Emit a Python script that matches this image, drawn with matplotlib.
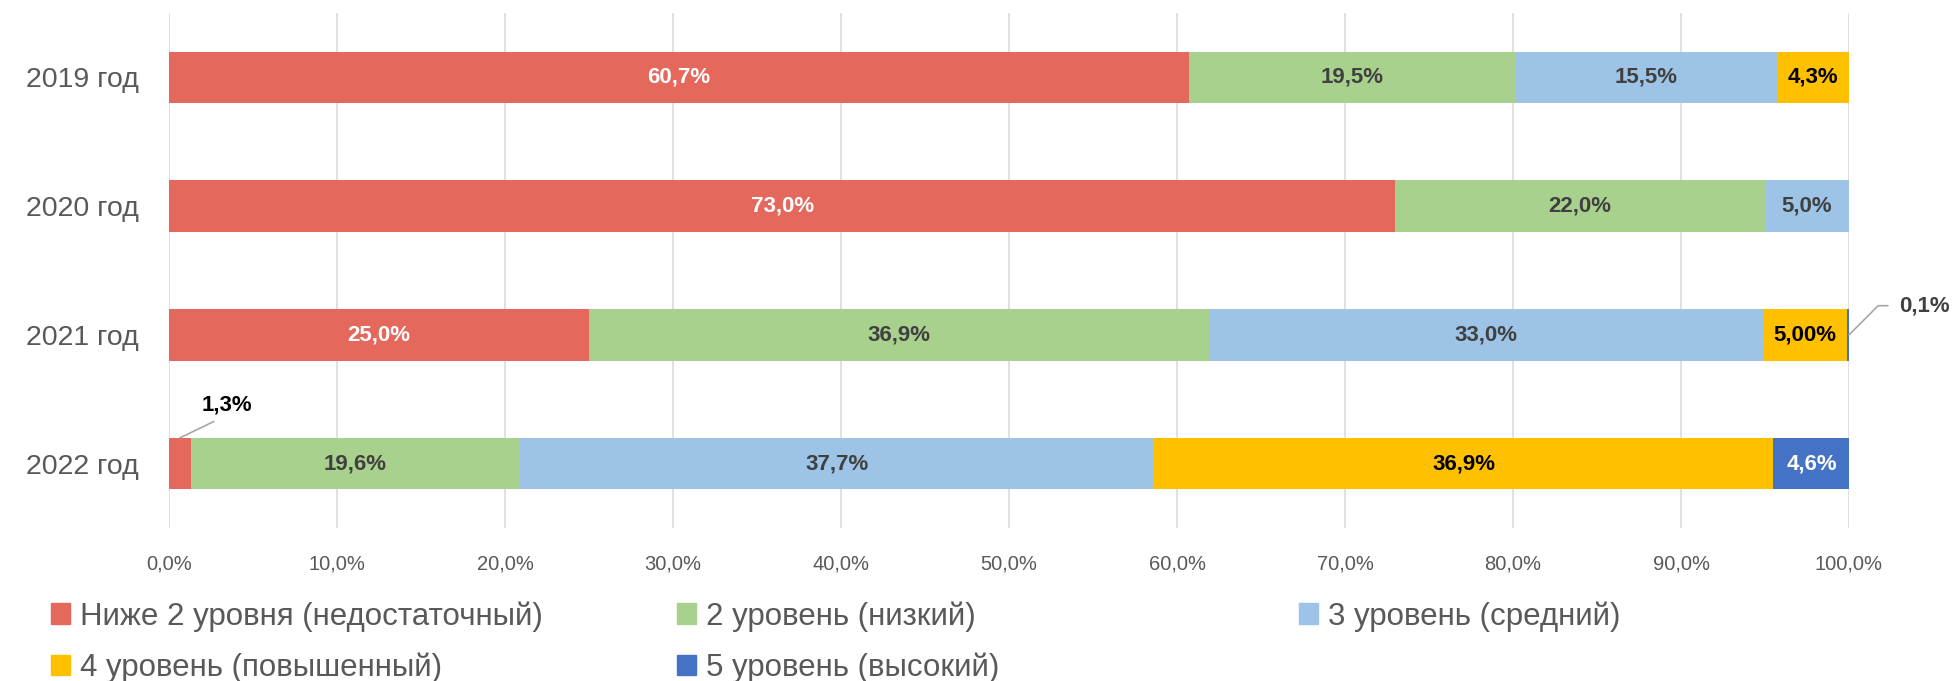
import matplotlib
matplotlib.use('Agg')
import matplotlib.pyplot as plt
from matplotlib.patches import Patch

plt.rcParams['font.family'] = ['Liberation Sans', 'DejaVu Sans']

years = ['2019 год', '2020 год', '2021 год', '2022 год']
levels = ['Ниже 2 уровня (недостаточный)', '2 уровень (низкий)', '3 уровень (средний)',
          '4 уровень (повышенный)', '5 уровень (высокий)']
below2 = [60.7, 73.0, 25.0, 1.3]
level2 = [19.5, 22.0, 36.9, 19.6]
level3 = [15.5, 5.0, 33.0, 37.7]
level4 = [4.3, 0.0, 5.0, 36.9]
level5 = [0.0, 0.0, 0.1, 4.6]
series = [below2, level2, level3, level4, level5]

colors = ['#E4695C', '#A9D18E', '#9DC3E6', '#FFC000', '#4472C4']
label_colors = ['white', '#404040', '#404040', 'black', 'white']

fig = plt.figure(figsize=(19.54, 6.81), dpi=100)
ax = fig.add_axes([169 / 1954, 1 - 528 / 681, 1680 / 1954, 515 / 681])

ypos = list(range(len(years)))
left = [0.0] * len(years)
for i, vals in enumerate(series):
    ax.barh(ypos, vals, left=left, height=0.4, color=colors[i], zorder=2)
    for j, v in enumerate(vals):
        if v == 0:
            continue
        if (i == 0 and j == 3) or (i == 4 and j == 2):
            pass  # small slices, labelled outside
        else:
            txt = f'{v:.1f}%'.replace('.', ',')
            if i == 3 and j == 2:
                txt = f'{v:.2f}%'.replace('.', ',')
            ax.text(left[j] + v / 2, j, txt, ha='center', va='center',
                    fontsize=16, fontweight='bold', color=label_colors[i], zorder=3)
        left[j] += v

# outside labels with leader lines
ax.annotate(f'{below2[3]:.1f}%'.replace('.', ','), xy=(below2[3] / 2, 3 - 0.2),
            xytext=(34, 24), textcoords='offset points', ha='center', va='center',
            fontsize=16, fontweight='bold', color='black', annotation_clip=False,
            arrowprops=dict(arrowstyle='-', color='#A6A6A6', lw=1.2, relpos=(0.5, 0),
                            shrinkA=6, shrinkB=0))
ax.annotate(f'{level5[2]:.1f}%'.replace('.', ','), xy=(100, 2),
            xytext=(36, 21), textcoords='offset points', ha='left', va='center',
            fontsize=16, fontweight='bold', color='#404040', annotation_clip=False,
            arrowprops=dict(arrowstyle='-', color='#A6A6A6', lw=1.2,
                            connectionstyle='angle,angleA=0,angleB=45,rad=0',
                            shrinkA=6, shrinkB=0))

ax.set_xlim(0, 100)
ax.set_ylim(3.5, -0.5)
ax.set_yticks(ypos)
ax.set_yticklabels(years, fontsize=20.5, color='#595959')
ax.set_xticks(range(0, 101, 10))
ax.set_xticklabels([f'{t:.1f}%'.replace('.', ',') for t in range(0, 101, 10)],
                   fontsize=14.5, color='#595959')
ax.tick_params(axis='y', length=0, pad=22)
ax.tick_params(axis='x', length=0, pad=19)
ax.grid(axis='x', color='#D9D9D9', lw=1.1, zorder=0)
ax.set_axisbelow(True)
for s in ax.spines.values():
    s.set_visible(False)

handles = [Patch(color=c) for c in colors]
legend_kw = dict(loc='upper left', frameon=False, fontsize=22.5, labelcolor='#595959',
                 handlelength=0.61, handleheight=0.61, handletextpad=0.32,
                 labelspacing=0.66, borderpad=0, borderaxespad=0,
                 bbox_transform=fig.transFigure)
cols = [([0, 3], 51), ([1, 4], 677), ([2], 1299)]
for idx, x0 in cols:
    leg = fig.legend([handles[k] for k in idx], [levels[k] for k in idx],
                     bbox_to_anchor=(x0 / 1954, 1 - 601 / 681), **legend_kw)

fig.savefig('out.png', dpi=100)
